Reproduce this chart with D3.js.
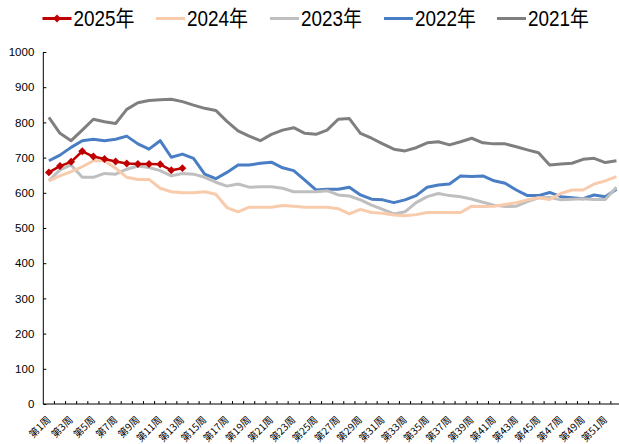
<!DOCTYPE html>
<html><head><meta charset="utf-8">
<script src="https://cdn.jsdelivr.net/npm/d3@7"></script>
<style>body{margin:0;background:#fff}svg{display:block}</style>
</head><body>
<svg id="c" width="619" height="444"></svg>
<script>
const weeks = d3.range(1, 53).map(i => "第" + i + "周");
const yTicks = [0,100,200,300,400,500,600,700,800,900,1000];
const seriesNames = ["2025年","2024年","2023年","2022年","2021年"];
const seriesColors = ["#c00000","#f8cbad","#bfbfbf","#4a7ec4","#7f7f7f"];
const y2025 = [658,676,688,718,703,696,689,683,682,682,681,664,670];
const y2024 = [634,648,660,674,691,691,670,644,638,638,613,603,600,600,603,596,558,
  546,559,559,559,564,562,559,559,559,555,540,553,544,542,537,535,538,
  544,544,544,544,562,561,562,567,572,580,586,581,598,608,608,625,634,646];
const y2023 = [634,665,679,644,644,655,653,667,676,672,663,648,655,653,644,630,619,
  625,616,617,617,613,603,603,603,606,594,591,580,565,553,540,546,572,
  589,598,592,589,582,573,565,561,562,575,586,587,580,582,583,581,581,616];
const y2022 = [691,707,729,748,752,748,752,761,739,724,748,701,710,698,653,640,658,
  679,679,684,687,671,663,636,608,610,610,616,594,582,580,572,580,592,
  616,622,625,648,646,648,634,627,608,592,592,601,589,586,583,594,589,610];
const y2021 = [814,769,748,778,809,802,797,837,856,862,864,866,859,849,840,834,803,
  776,761,748,766,778,785,769,766,778,809,811,769,755,739,724,719,728,
  742,745,736,745,755,742,739,739,731,722,714,679,682,684,695,698,686,691];
const seriesData = [y2025,y2024,y2023,y2022,y2021];

const svg = d3.select("#c");
const x = d3.scaleBand().domain(weeks).range([43.3, 622]).padding(0);
const y = d3.scaleLinear().domain([0,1000]).range([404, 52]);
const cx = w => x(w) + x.bandwidth()/2;

// y axis
const ya = svg.append("g").attr("transform","translate(43.3,0)")
  .call(d3.axisRight(y).tickValues(yTicks).tickSize(3).tickFormat(d3.format("d")));
ya.select(".domain").attr("stroke","#000").attr("d","M0,52V404");
ya.selectAll(".tick line").attr("stroke","#000");
ya.selectAll(".tick text").attr("x",-9).attr("text-anchor","end")
  .attr("font-family","'Liberation Sans',Arial,sans-serif").attr("font-size","11.5px").attr("fill","#000");

// x axis
const xa = svg.append("g").attr("transform","translate(0,404)")
  .call(d3.axisBottom(x).tickSize(0).tickFormat(""));
xa.select(".domain").attr("stroke","#000").attr("d","M43.3,0H619");
xa.selectAll(".tick").remove();
const bounds = weeks.slice(1);
xa.selectAll("line.bt").data(bounds).enter().append("line").attr("class","bt")
  .attr("x1", d => x(d)).attr("x2", d => x(d)).attr("y1",0).attr("y2",-3).attr("stroke","#000");
const labs = weeks.filter((d,i) => i % 2 === 0);
svg.append("g").selectAll("text").data(labs).enter().append("text")
  .attr("transform", d => `translate(${cx(d)},${418}) rotate(-45)`)
  .attr("text-anchor","end").attr("dy","0.35em")
  .attr("font-family","'Noto Sans CJK SC',sans-serif").attr("font-size","10px").attr("fill","#000")
  .text(d => d);

// lines
const line = d3.line().x((v,i) => cx(weeks[i])).y(v => y(v));
const order = [4,3,2,1,0];
order.forEach(si => {
  svg.append("path").datum(seriesData[si]).attr("d", line)
    .attr("fill","none").attr("stroke", seriesColors[si])
    .attr("stroke-width", si === 0 ? 2.5 : 3).attr("stroke-linejoin","round");
});
const diamond = d3.symbol().type(d3.symbolDiamond2).size(40);
svg.append("g").selectAll("path").data(y2025).enter().append("path")
  .attr("d", diamond).attr("transform",(v,i)=>`translate(${cx(weeks[i])},${y(v)})`)
  .attr("fill","#c00000");

// legend
const legX = [42.5, 156, 270, 384, 497];
const lg = svg.append("g");
seriesNames.forEach((n,i) => {
  const g = lg.append("g").attr("transform",`translate(${legX[i]},18.5)`);
  g.append("line").attr("x1",0).attr("x2",29).attr("stroke",seriesColors[i]).attr("stroke-width",3);
  if (i === 0) g.append("path").attr("d", diamond).attr("transform","translate(14.5,0)").attr("fill","#c00000");
  g.append("text").attr("x",31).attr("y",0).attr("dy","0.36em")
    .attr("font-family","'Liberation Sans','Noto Sans CJK SC',sans-serif").attr("font-size","22px")
    .attr("textLength",61).attr("lengthAdjust","spacingAndGlyphs").attr("fill","#000").text(n);
});
</script>
</body></html>
